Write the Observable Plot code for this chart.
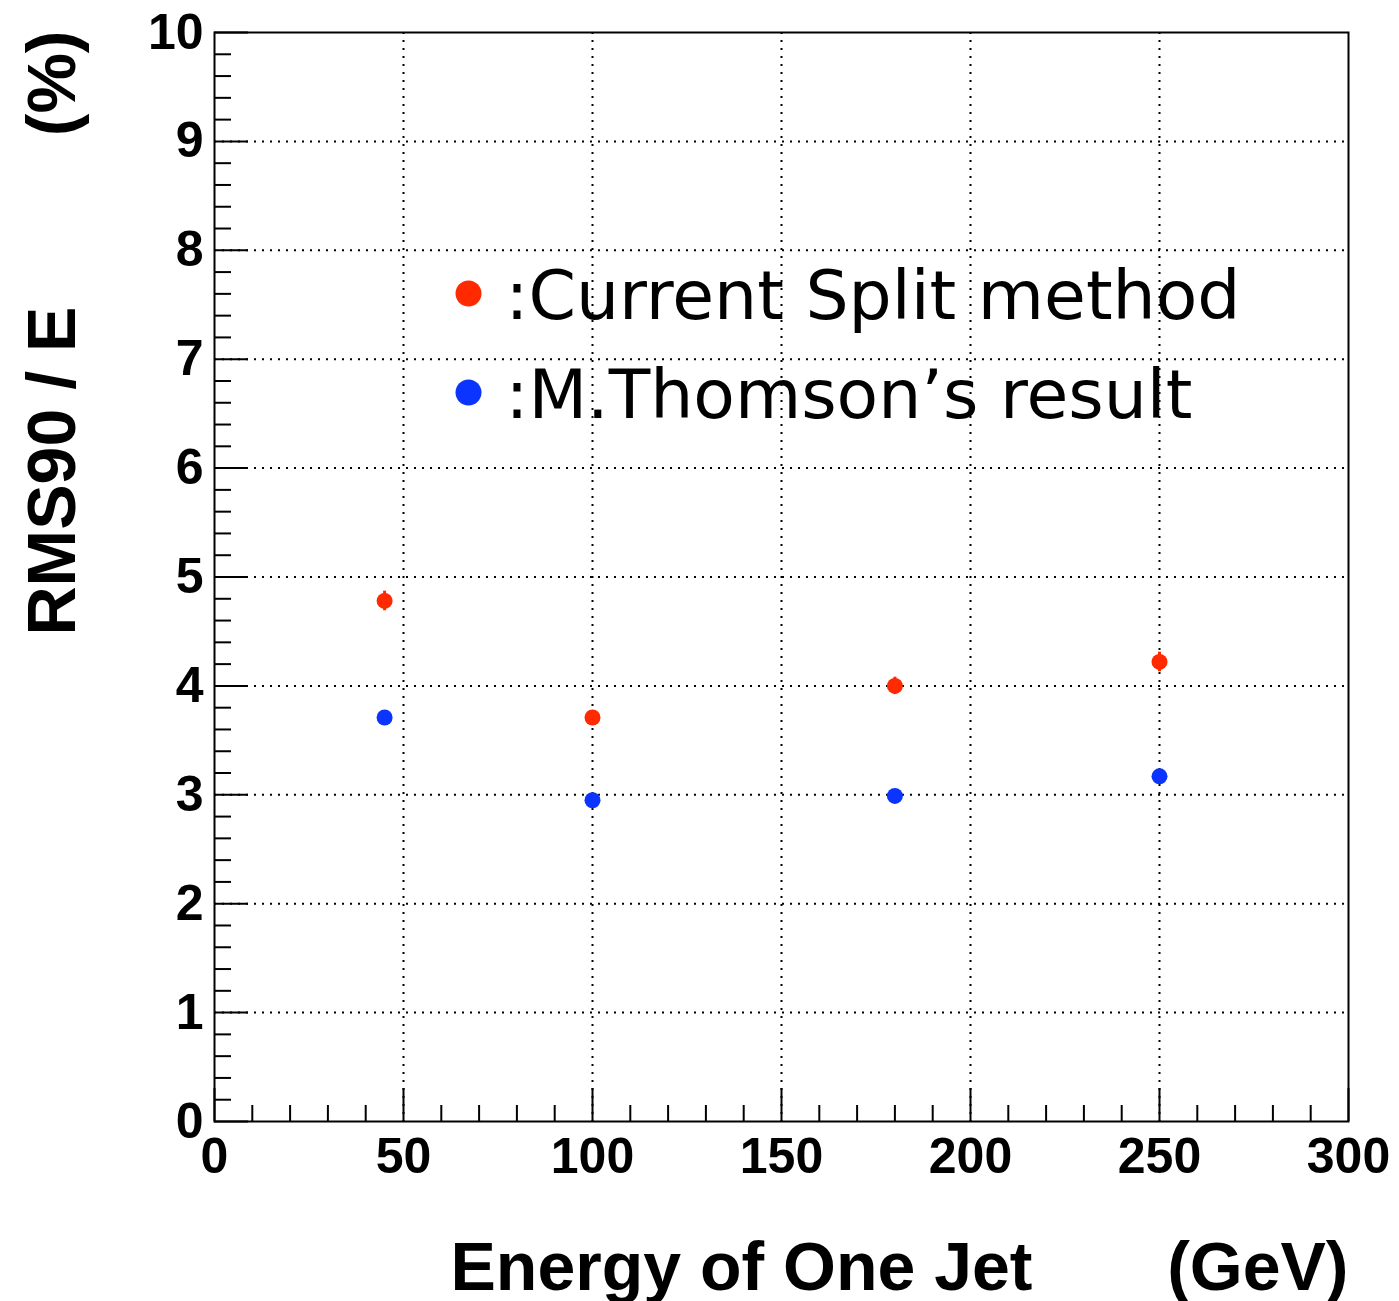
<!DOCTYPE html>
<html>
<head>
<meta charset="utf-8">
<script src="https://cdn.jsdelivr.net/npm/d3@7"></script>
<script src="https://cdn.jsdelivr.net/npm/@observablehq/plot@0.6"></script>
<style>
  html, body { margin: 0; padding: 0; background: #fff; }
  #chart svg { overflow: visible; display: block; }
</style>
</head>
<body>
<div id="chart"></div>
<script>
// ---- data ----
const energies = [45, 100, 180, 250];            // GeV
const splitRMS = [4.78, 3.71, 4.00, 4.22];        // Current Split method (%)
const splitErr = [0.09, 0.06, 0.08, 0.09];
const thomsonRMS = [3.71, 2.95, 2.99, 3.17];      // M.Thomson's result (%)

const xMajor = [0, 50, 100, 150, 200, 250, 300];
const xMinor = d3.range(10, 300, 10).filter(v => v % 50 !== 0);
const yMajor = [0, 1, 2, 3, 4, 5, 6, 7, 8, 9, 10];
const yMinor = d3.range(1, 50).map(v => v / 5).filter(v => Math.abs(v - Math.round(v)) > 1e-9);
const xGrid = [50, 100, 150, 200, 250];
const yGrid = [1, 2, 3, 4, 5, 6, 7, 8, 9];

const seriesLabels = [":Current Split method", ":M.Thomson\u2019s result"];
const xTitle = "Energy of One Jet";
const xUnit = "(GeV)";
const yTitle = "RMS90 / E";
const yUnit = "(%)";

const red = "#ff2a00";
const blue = "#0c34ff";

// ---- layout ----
const W = 1399, H = 1301;
const mL = 214, mR = 51, mT = 32, mB = 180;
const fw = W - mL - mR, fh = H - mT - mB;
const idx = d3.range(energies.length);
const fmt = d => String(d);

const chart = Plot.plot({
  width: W,
  height: H,
  marginLeft: mL,
  marginRight: mR,
  marginTop: mT,
  marginBottom: mB,
  style: { fontFamily: "'Liberation Sans', Arial, Helvetica, sans-serif", background: "white", overflow: "visible" },
  x: { domain: [0, 300] },
  y: { domain: [0, 10] },
  marks: [
    // dotted grid
    Plot.gridX(xGrid, { stroke: "black", strokeOpacity: 1, strokeWidth: 2, strokeDasharray: "2,6" }),
    Plot.gridY(yGrid, { stroke: "black", strokeOpacity: 1, strokeWidth: 2, strokeDasharray: "2,6" }),
    // inward ticks
    Plot.tickY(yMinor, { y: d => d, stroke: "black", strokeWidth: 2, insetRight: fw - 17 }),
    Plot.tickY(yMajor, { y: d => d, stroke: "black", strokeWidth: 2, insetRight: fw - 34 }),
    Plot.tickX(xMinor, { x: d => d, stroke: "black", strokeWidth: 2, insetTop: fh - 16 }),
    Plot.tickX(xMajor, { x: d => d, stroke: "black", strokeWidth: 2, insetTop: fh - 33 }),
    // tick labels
    Plot.axisX(xMajor, { tickSize: 0, tickPadding: 16, fontSize: 50, fontWeight: "bold", label: null, fill: "black", tickFormat: fmt }),
    Plot.axisY(yMajor, { tickSize: 0, tickPadding: 11, fontSize: 50, fontWeight: "bold", label: null, fill: "black", tickFormat: fmt }),
    Plot.frame({ stroke: "black", strokeWidth: 2 }),
    // error bars and points
    Plot.ruleX(idx, { x: i => energies[i], y1: i => splitRMS[i] - splitErr[i], y2: i => splitRMS[i] + splitErr[i], stroke: red, strokeWidth: 3 }),
    Plot.dot(idx, { x: i => energies[i], y: i => splitRMS[i], r: 8, fill: red, stroke: "none" }),
    Plot.dot(idx, { x: i => energies[i], y: i => thomsonRMS[i], r: 8, fill: blue, stroke: "none" }),
    // legend
    Plot.dot([0], { frameAnchor: "top-left", dx: 254, dy: 261, r: 13, fill: red, stroke: "none" }),
    Plot.dot([1], { frameAnchor: "top-left", dx: 254, dy: 360, r: 13, fill: blue, stroke: "none" }),
    Plot.text([seriesLabels[0]], { frameAnchor: "top-left", dx: 291, dy: 286, textAnchor: "start", lineAnchor: "bottom", fontSize: 68, fontFamily: "'DejaVu Sans', sans-serif", fill: "black" }),
    Plot.text([seriesLabels[1]], { frameAnchor: "top-left", dx: 291, dy: 385, textAnchor: "start", lineAnchor: "bottom", fontSize: 68, fontFamily: "'DejaVu Sans', sans-serif", fill: "black" }),
    // axis titles
    Plot.text([xTitle], { frameAnchor: "bottom-left", dx: 236, dy: 168, textAnchor: "start", lineAnchor: "bottom", fontSize: 68, fontWeight: "bold", fill: "black" }),
    Plot.text([xUnit], { frameAnchor: "bottom-right", dx: 0, dy: 168, textAnchor: "end", lineAnchor: "bottom", fontSize: 68, fontWeight: "bold", fill: "black" }),
    Plot.text([yTitle], { frameAnchor: "top-left", dx: -140, dy: 603, rotate: -90, textAnchor: "start", lineAnchor: "bottom", fontSize: 68, fontWeight: "bold", fill: "black" }),
    Plot.text([yUnit], { frameAnchor: "top-left", dx: -140, dy: -2, rotate: -90, textAnchor: "end", lineAnchor: "bottom", fontSize: 68, fontWeight: "bold", fill: "black" })
  ]
});

document.getElementById("chart").appendChild(chart);
</script>
</body>
</html>
